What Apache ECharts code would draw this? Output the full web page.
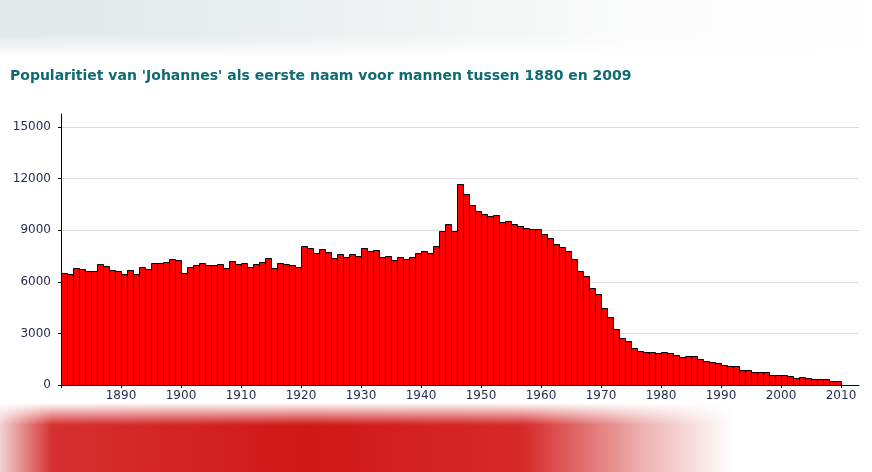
<!DOCTYPE html>
<html>
<head>
<meta charset="utf-8">
<script src="https://cdn.jsdelivr.net/npm/echarts@6/dist/echarts.min.js"></script>
<style>
html,body{margin:0;padding:0;background:#ffffff;}
#chart{width:872px;height:472px;}
</style>
</head>
<body>
<div id="chart"></div>
<script>
const titleText = "Popularitiet van 'Johannes' als eerste naam voor mannen tussen 1880 en 2009";

const years = [
  1880,1881,1882,1883,1884,1885,1886,1887,1888,1889,
  1890,1891,1892,1893,1894,1895,1896,1897,1898,1899,
  1900,1901,1902,1903,1904,1905,1906,1907,1908,1909,
  1910,1911,1912,1913,1914,1915,1916,1917,1918,1919,
  1920,1921,1922,1923,1924,1925,1926,1927,1928,1929,
  1930,1931,1932,1933,1934,1935,1936,1937,1938,1939,
  1940,1941,1942,1943,1944,1945,1946,1947,1948,1949,
  1950,1951,1952,1953,1954,1955,1956,1957,1958,1959,
  1960,1961,1962,1963,1964,1965,1966,1967,1968,1969,
  1970,1971,1972,1973,1974,1975,1976,1977,1978,1979,
  1980,1981,1982,1983,1984,1985,1986,1987,1988,1989,
  1990,1991,1992,1993,1994,1995,1996,1997,1998,1999,
  2000,2001,2002,2003,2004,2005,2006,2007,2008,2009
];

const counts = [
  6510,6450,6800,6740,6600,6600,7030,6900,6680,6600,
  6450,6680,6480,6860,6740,7090,7090,7150,7330,7270,
  6510,6860,6980,7090,6980,6980,7030,6800,7210,7030,
  7090,6860,7030,7150,7390,6800,7090,7030,6980,6860,
  8090,7970,7680,7910,7740,7390,7620,7440,7620,7500,
  7970,7800,7850,7440,7500,7270,7440,7330,7440,7680,
  7800,7680,8090,8960,9370,8960,11710,11120,10480,10130,
  9960,9840,9900,9490,9550,9370,9260,9140,9080,9080,
  8790,8550,8200,8030,7800,7330,6630,6330,5630,5280,
  4470,3940,3240,2710,2540,2130,1950,1890,1890,1840,
  1890,1840,1720,1600,1660,1660,1490,1370,1310,1250,
  1190,1080,1080,900,900,780,780,730,610,610,
  610,550,430,490,430,320,320,320,260,260
];

const xTickValues = [1880,1890,1900,1910,1920,1930,1940,1950,1960,1970,1980,1990,2000,2010];
const xLabelValues = [1890,1900,1910,1920,1930,1940,1950,1960,1970,1980,1990,2000,2010];
const yTickValues = [0,3000,6000,9000,12000,15000];

const chart = echarts.init(document.getElementById('chart'), null, {renderer:'canvas'});

const option = {
  backgroundColor: '#ffffff',
  animation: false,
  graphic: [
    { type:'rect', z:-10, shape:{x:0,y:0,width:872,height:58},
      style:{fill:new echarts.graphic.LinearGradient(0,0,1,0,[
        {offset:0,color:'#d6dfdf'},{offset:0.25,color:'#dde4e4'},{offset:0.5,color:'#ecf0f0'},{offset:0.75,color:'#fafafa'},{offset:1,color:'#ffffff'}])}},
    { type:'rect', z:-9, shape:{x:0,y:0,width:872,height:58},
      style:{fill:new echarts.graphic.LinearGradient(0,0,0,1,[
        {offset:0,color:'rgba(255,255,255,0.3)'},{offset:0.6,color:'rgba(255,255,255,0.3)'},{offset:1,color:'rgba(255,255,255,1)'}])}},
    { type:'rect', z:-10, shape:{x:0,y:403,width:872,height:69},
      style:{fill:new echarts.graphic.LinearGradient(0,0,1,0,[
        {offset:0,color:'#f2d2d2'},{offset:0.06,color:'#d63030'},{offset:0.35,color:'#d01818'},{offset:0.6,color:'#d62a2a'},{offset:0.74,color:'#eeb4b4'},{offset:0.84,color:'#ffffff'},{offset:1,color:'#ffffff'}])}},
    { type:'rect', z:-9, shape:{x:0,y:403,width:872,height:22},
      style:{fill:new echarts.graphic.LinearGradient(0,0,0,1,[
        {offset:0,color:'rgba(255,255,255,1)'},{offset:1,color:'rgba(255,255,255,0)'}])}}
  ],
  title: {
    text: titleText,
    left: 5,
    top: 64,
    textStyle: {
      fontFamily: 'DejaVu Sans',
      fontSize: 14,
      fontWeight: 'bold',
      color: '#0f6a72'
    }
  },
  grid: {
    left: 61,
    right: 13,
    top: 114,
    bottom: 87,
    containLabel: false
  },
  xAxis: {
    type: 'value',
    min: 1880,
    max: 2013,
    interval: 10,
    axisLine: {show:true, lineStyle:{color:'#000000', width:1}},
    axisTick: {show:true, length:3, customValues: xTickValues, lineStyle:{color:'#000000'}},
    splitLine: {show:false},
    axisLabel: {
      customValues: xLabelValues,
      margin: 5,
      fontFamily: 'DejaVu Sans',
      fontSize: 12,
      color: '#1f2a4d',
      formatter: v => String(v)
    }
  },
  yAxis: {
    type: 'value',
    min: 0,
    max: 15750,
    interval: 3000,
    axisLine: {show:true, lineStyle:{color:'#000000', width:1}},
    axisTick: {show:true, length:3, customValues: yTickValues, lineStyle:{color:'#000000'}},
    splitLine: {show:true, lineStyle:{color:'#dcdcdc', width:1}},
    axisLabel: {
      customValues: yTickValues,
      margin: 10,
      fontFamily: 'DejaVu Sans',
      fontSize: 12,
      color: '#1f2a4d',
      formatter: v => String(v)
    }
  },
  series: [{
    type: 'custom',
    data: years.map((y, i) => [y, counts[i]]),
    encode: {x: 0, y: 1},
    renderItem: function (params, api) {
      const x = api.value(0);
      const v = api.value(1);
      const p0 = api.coord([x, 0]);
      const p1 = api.coord([x + 1, v]);
      const x0 = Math.round(p0[0]);
      const x1 = Math.round(p1[0]);
      const yb = Math.round(p0[1]);
      const yt = Math.round(p1[1]);
      return {
        type: 'rect',
        shape: {x: x0 + 0.5, y: yt + 0.5, width: x1 - x0, height: yb - yt},
        style: {fill: '#ff0000', stroke: '#000000', lineWidth: 1}
      };
    }
  }]
};

chart.setOption(option);
</script>
</body>
</html>
